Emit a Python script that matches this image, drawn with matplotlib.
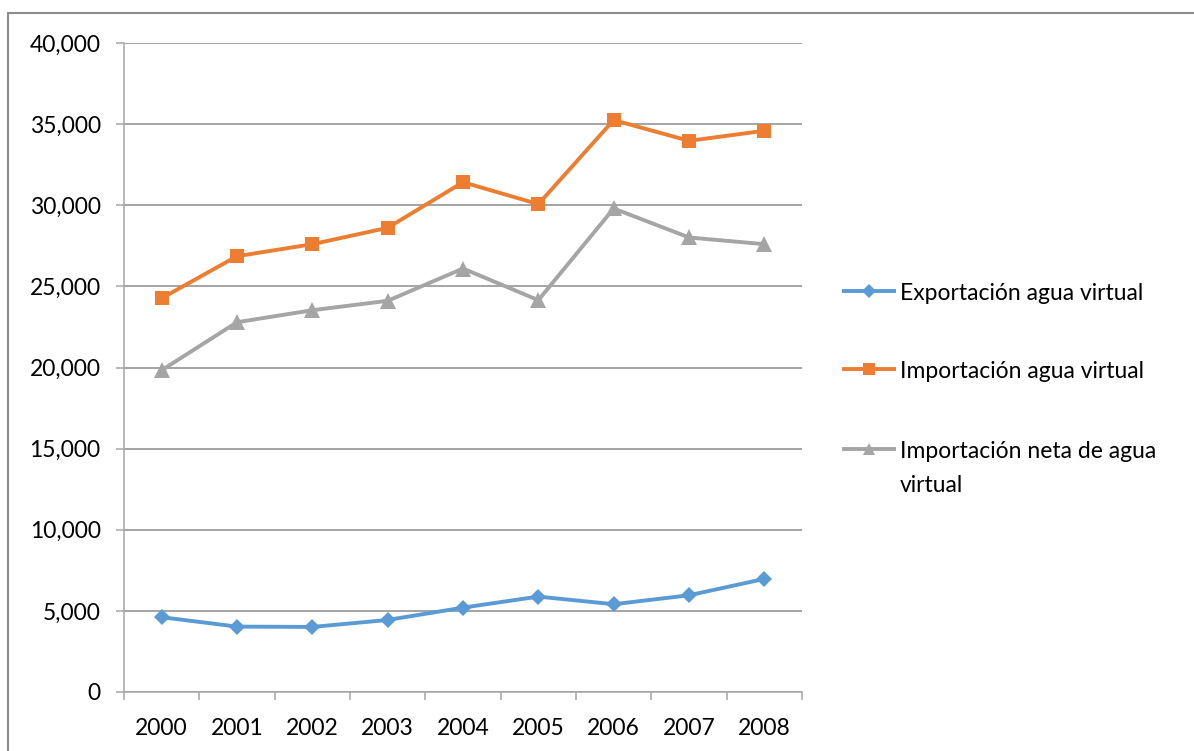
import matplotlib
matplotlib.use("Agg")
import matplotlib.pyplot as plt
from matplotlib.lines import Line2D
from matplotlib.patches import Rectangle
from matplotlib.ticker import FuncFormatter, FixedLocator

years = ["2000", "2001", "2002", "2003", "2004", "2005", "2006", "2007", "2008"]
exportacion = [4610, 4030, 4010, 4440, 5200, 5880, 5410, 5960, 6970]
importacion = [24270, 26860, 27600, 28610, 31420, 30070, 35250, 33970, 34590]
importacion_neta = [19830, 22790, 23530, 24110, 26100, 24150, 29800, 28015, 27600]

series = [
    ("Exportación agua virtual", exportacion, "#5B9BD5", "D", 8),
    ("Importación agua virtual", importacion, "#ED7D31", "s", 10.5),
    ("Importación neta de agua\nvirtual", importacion_neta, "#A5A5A5", "^", 11),
]

plt.rcParams["font.family"] = ["Lato", "DejaVu Sans"]
FS = 16.5

W, H = 1194, 751
fig = plt.figure(figsize=(W / 100, H / 100), dpi=100)

# outer chart frame
fig.add_artist(Rectangle((8 / W, -0.1), 1.2, 1.1 - 13 / H, transform=fig.transFigure,
                         fill=False, edgecolor="#8C8C8C", linewidth=1.5))

ax = fig.add_axes([124 / W, 1 - 692 / H, (802 - 124) / W, (692 - 43) / H])

x = list(range(len(years)))
for label, vals, color, marker, ms in series:
    ax.plot(x, vals, color=color, linewidth=2.8, marker=marker, markersize=ms,
            markeredgewidth=0, solid_joinstyle="round", zorder=3)

ax.set_xlim(-0.5, len(years) - 0.5)
ax.set_ylim(0, 40000)
ax.set_yticks(range(0, 40001, 5000))
ax.yaxis.set_major_formatter(FuncFormatter(lambda v, p: f"{int(v):,}"))
ax.grid(axis="y", color="#8C8C8C", linewidth=1.1, zorder=0)

ax.set_xticks(x)
ax.set_xticklabels(years)
ax.xaxis.set_minor_locator(FixedLocator([i - 0.5 for i in range(len(years) + 1)]))
ax.tick_params(axis="x", which="major", length=0, pad=18.5, labelsize=FS, colors="black")
ax.tick_params(axis="x", which="minor", length=8 * 0.72, width=1.1, color="#A6A6A6")
ax.tick_params(axis="y", length=8 * 0.72, width=1.1, color="#A6A6A6", pad=11, labelsize=FS)

for side in ("top", "right"):
    ax.spines[side].set_visible(False)
for side in ("left", "bottom"):
    ax.spines[side].set_color("#A6A6A6")
    ax.spines[side].set_linewidth(1.1)

# legend on the right
legend_y = [291, 369, 449]
for (label, vals, color, marker, ms), py in zip(series, legend_y):
    yf = 1 - py / H
    fig.add_artist(Line2D([842 / W, 896 / W], [yf, yf], transform=fig.transFigure,
                          color=color, linewidth=2.8, solid_capstyle="butt"))
    fig.add_artist(Line2D([869 / W], [yf], transform=fig.transFigure, color=color,
                          marker=marker, markersize=ms * 0.85, markeredgewidth=0))
    lines = label.split("\n")
    for k, line in enumerate(lines):
        fig.text(900 / W, 1 - (py + 34 * k) / H, line, fontsize=FS,
                 va="center_baseline", ha="left", color="black")

fig.savefig("out.png", dpi=100)
